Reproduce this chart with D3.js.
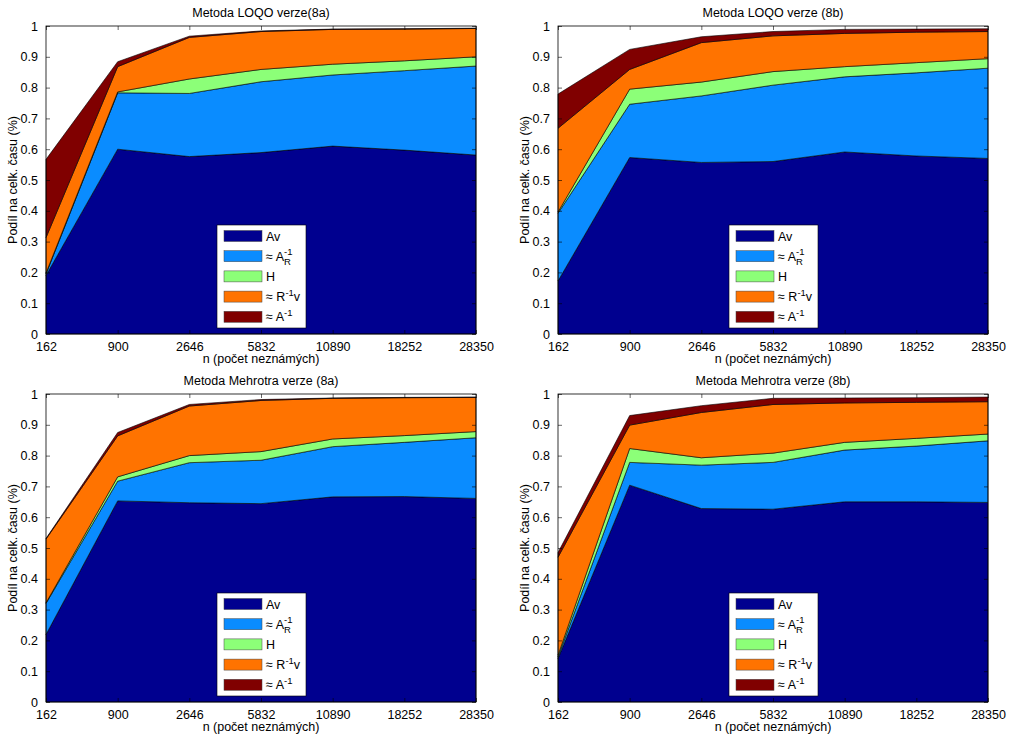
<!DOCTYPE html>
<html><head><meta charset="utf-8">
<script src="https://cdn.jsdelivr.net/npm/d3@7"></script>
<style>
body{margin:0;background:#fff;}
svg text{font-family:"Liberation Sans",Arial,Helvetica,sans-serif;fill:#000;}
</style></head>
<body><svg id="chart" width="1024" height="735"></svg>
<script>
// ---- data ----
const categories = ["162","900","2646","5832","10890","18252","28350"];
const yTicks = [0,0.1,0.2,0.3,0.4,0.5,0.6,0.7,0.8,0.9,1];
const seriesNames = ["Av","AR","H","Rv","Ainv"];
const seriesColors = ["#00008f","#0a8cff","#8cff78","#ff7300","#800000"];

const titles = ["Metoda LOQO verze(8a)","Metoda LOQO verze (8b)","Metoda Mehrotra verze (8a)","Metoda Mehrotra verze (8b)"];

// shares of total time per layer, panel by panel
const loqo8a_Av   = [0.190,0.600,0.576,0.589,0.610,0.597,0.581];
const loqo8a_AR   = [0.005,0.183,0.205,0.230,0.231,0.258,0.289];
const loqo8a_H    = [0.003,0.003,0.047,0.040,0.035,0.032,0.030];
const loqo8a_Rv   = [0.115,0.082,0.135,0.123,0.113,0.103,0.092];
const loqo8a_Ainv = [0.254,0.016,0.004,0.002,0.001,0.001,0.001];

const loqo8b_Av   = [0.172,0.573,0.557,0.560,0.591,0.578,0.570];
const loqo8b_AR   = [0.220,0.173,0.216,0.248,0.244,0.270,0.293];
const loqo8b_H    = [0.004,0.049,0.045,0.044,0.033,0.033,0.031];
const loqo8b_Rv   = [0.272,0.064,0.128,0.116,0.108,0.099,0.088];
const loqo8b_Ainv = [0.111,0.065,0.019,0.014,0.013,0.010,0.009];

const meh8a_Av   = [0.219,0.653,0.647,0.644,0.666,0.667,0.661];
const meh8a_AR   = [0.101,0.064,0.130,0.141,0.163,0.176,0.197];
const meh8a_H    = [0.002,0.014,0.023,0.028,0.025,0.022,0.020];
const meh8a_Rv   = [0.207,0.133,0.161,0.166,0.132,0.123,0.111];
const meh8a_Ainv = [0.002,0.011,0.005,0.003,0.001,0.001,0.001];

const meh8b_Av   = [0.141,0.704,0.628,0.626,0.650,0.650,0.648];
const meh8b_AR   = [0.005,0.074,0.141,0.152,0.168,0.181,0.200];
const meh8b_H    = [0.006,0.045,0.024,0.030,0.025,0.025,0.022];
const meh8b_Rv   = [0.318,0.076,0.147,0.158,0.128,0.117,0.105];
const meh8b_Ainv = [0.015,0.031,0.022,0.020,0.016,0.015,0.015];

const panelsData = [
  [loqo8a_Av,loqo8a_AR,loqo8a_H,loqo8a_Rv,loqo8a_Ainv],
  [loqo8b_Av,loqo8b_AR,loqo8b_H,loqo8b_Rv,loqo8b_Ainv],
  [meh8a_Av,meh8a_AR,meh8a_H,meh8a_Rv,meh8a_Ainv],
  [meh8b_Av,meh8b_AR,meh8b_H,meh8b_Rv,meh8b_Ainv]
];

// ---- layout ----
const svg = d3.select("#chart");
const boxes = [
  {x0:46,x1:476,y0:26,y1:334},
  {x0:558,x1:988,y0:26,y1:334},
  {x0:46,x1:476,y0:394,y1:702},
  {x0:558,x1:988,y0:394,y1:702}
];

panelsData.forEach((series,pi)=>{
  const b = boxes[pi];
  const g = svg.append("g");
  const x = d3.scalePoint().domain(categories).range([b.x0,b.x1]);
  const y = d3.scaleLinear().domain([0,1]).range([b.y1,b.y0]);

  const rows = categories.map((c,i)=>{
    const r = {cat:c};
    seriesNames.forEach((s,si)=>r[s]=series[si][i]);
    return r;
  });
  const stacked = d3.stack().keys(seriesNames)(rows);
  const area = d3.area().x(d=>x(d.data.cat)).y0(d=>y(d[0])).y1(d=>y(d[1]));

  g.selectAll("path.layer").data(stacked).join("path")
    .attr("class","layer")
    .attr("d",area)
    .attr("fill",(d,i)=>seriesColors[i])
    .attr("stroke","#000").attr("stroke-width",0.6).attr("stroke-linejoin","round");

  // frame
  g.append("rect").attr("x",b.x0).attr("y",b.y0).attr("width",b.x1-b.x0).attr("height",b.y1-b.y0)
    .attr("fill","none").attr("stroke","#000").attr("stroke-width",0.8);

  // axes (ticks inward)
  const fs = "12.5px";
  const xb = g.append("g").attr("transform",`translate(0,${b.y1})`)
    .call(d3.axisBottom(x).tickSizeInner(-4).tickSizeOuter(0).tickPadding(8));
  xb.select(".domain").remove();
  xb.selectAll("text").style("font-size",fs);
  const xt = g.append("g").attr("transform",`translate(0,${b.y0})`)
    .call(d3.axisTop(x).tickSizeInner(-4).tickSizeOuter(0).tickFormat(""));
  xt.select(".domain").remove();
  const yl = g.append("g").attr("transform",`translate(${b.x0},0)`)
    .call(d3.axisLeft(y).tickValues(yTicks).tickFormat(d3.format("~g")).tickSizeInner(-4).tickSizeOuter(0).tickPadding(8));
  yl.select(".domain").remove();
  yl.selectAll("text").style("font-size",fs);
  const yr = g.append("g").attr("transform",`translate(${b.x1},0)`)
    .call(d3.axisRight(y).tickValues(yTicks).tickSizeInner(-4).tickSizeOuter(0).tickFormat(""));
  yr.select(".domain").remove();
  g.selectAll(".tick line").attr("stroke","#000").attr("stroke-width",0.6);

  // titles and labels
  const cx = (b.x0+b.x1)/2;
  g.append("text").attr("x",cx).attr("y",b.y0-9).attr("text-anchor","middle").style("font-size","12.5px").text(titles[pi]);
  g.append("text").attr("x",cx).attr("y",b.y1+29).attr("text-anchor","middle").style("font-size","12.5px").text("n (počet neznámých)");
  g.append("text").attr("transform",`translate(${b.x0-29},${(b.y0+b.y1)/2}) rotate(-90)`)
    .attr("text-anchor","middle").style("font-size","12.5px").text("Podíl na celk. času (%)");

  // legend
  const lx = b.x0+171, ly = b.y1-109, lw = 89, lh = 103;
  const lg = g.append("g").attr("transform",`translate(${lx},${ly})`);
  lg.append("rect").attr("width",lw).attr("height",lh).attr("fill","#fff").attr("stroke","#000").attr("stroke-width",0.6);
  seriesNames.forEach((s,i)=>{
    const cy = 11 + i*20.2;
    lg.append("rect").attr("x",7).attr("y",cy-5.5).attr("width",38).attr("height",11)
      .attr("fill",seriesColors[i]).attr("stroke","#444").attr("stroke-width",0.5);
    const t = lg.append("text").attr("x",49).attr("y",cy+4.5).style("font-size","12.5px");
    if(s==="Av"){ t.text("Av"); }
    else if(s==="H"){ t.text("H"); }
    else if(s==="AR"){
      t.text("≈ A");
      const w = t.node().getComputedTextLength();
      lg.append("text").attr("x",49+w).attr("y",cy-1).style("font-size","9.5px").text("-1");
      lg.append("text").attr("x",49+w).attr("y",cy+9).style("font-size","9.5px").text("R");
    }
    else if(s==="Rv"){
      t.text("≈ R");
      t.append("tspan").attr("dy",-5).style("font-size","9.5px").text("-1");
      t.append("tspan").attr("dy",5).text("v");
    }
    else {
      t.text("≈ A");
      t.append("tspan").attr("dy",-5).style("font-size","9.5px").text("-1");
    }
  });
});
</script></body></html>
